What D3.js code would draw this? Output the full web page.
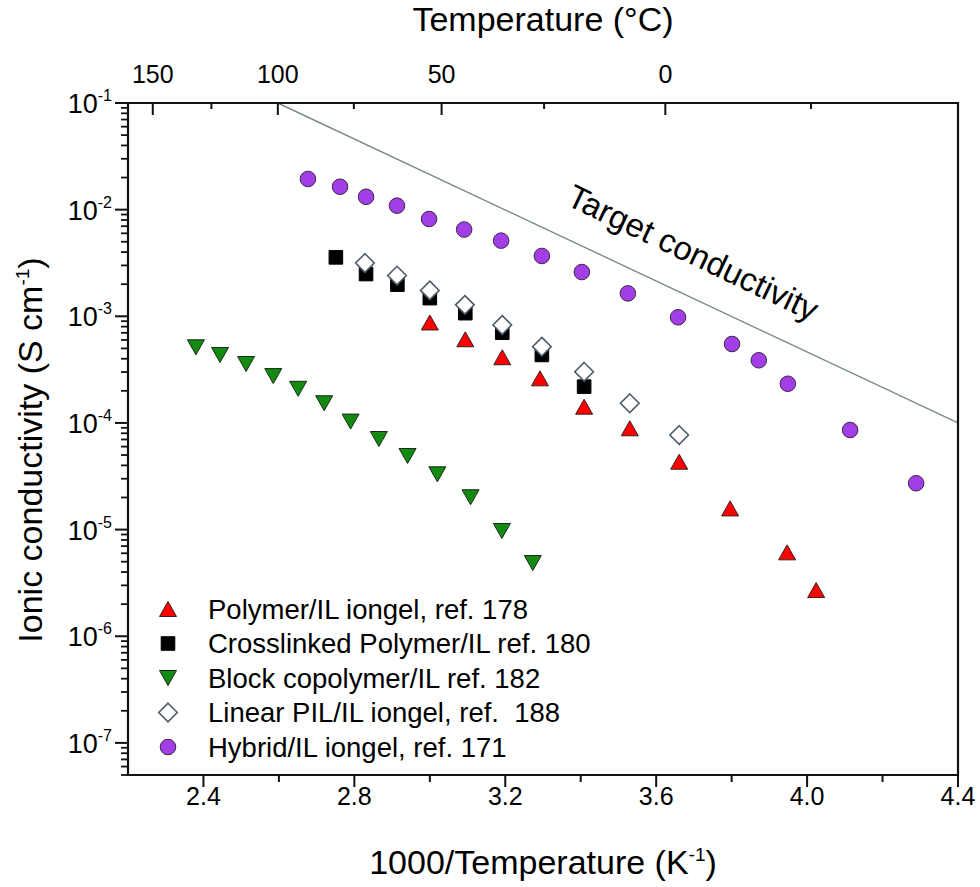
<!DOCTYPE html>
<html>
<head>
<meta charset="utf-8">
<script src="https://cdn.jsdelivr.net/npm/d3@7"></script>
<style>
  body { margin: 0; background: #fff; }
  svg { display: block; font-family: "Liberation Sans", Arial, sans-serif; }
</style>
</head>
<body>
<svg id="chart" width="980" height="887"></svg>
<script>
// Series values: 1000/T (K^-1) and conductivity (S cm^-1)
const polymerX = [3.000, 3.094, 3.192, 3.292, 3.409, 3.530, 3.661, 3.796, 3.947, 4.024];
const polymerY = [8.75e-4, 6.09e-4, 4.13e-4, 2.62e-4, 1.42e-4, 8.91e-5, 4.33e-5, 1.58e-5, 6.12e-6, 2.71e-6];

const crosslinkedX = [2.751, 2.831, 2.914, 3.000, 3.094, 3.192, 3.297, 3.409];
const crosslinkedY = [3.57e-3, 2.49e-3, 1.98e-3, 1.48e-3, 1.07e-3, 7.02e-4, 4.34e-4, 2.19e-4];

const blockX = [2.380, 2.444, 2.513, 2.585, 2.651, 2.720, 2.790, 2.865, 2.941, 3.020, 3.108, 3.191, 3.273];
const blockY = [5.12e-4, 4.34e-4, 3.57e-4, 2.75e-4, 2.09e-4, 1.53e-4, 1.03e-4, 7.07e-5, 4.90e-5, 3.30e-5, 2.01e-5, 9.7e-6, 4.86e-6];

const linearX = [2.828, 2.913, 3.000, 3.093, 3.192, 3.297, 3.409, 3.530, 3.661];
const linearY = [3.16e-3, 2.41e-3, 1.75e-3, 1.28e-3, 8.29e-4, 5.19e-4, 3.02e-4, 1.53e-4, 7.71e-5];

const hybridX = [2.677, 2.762, 2.831, 2.913, 2.998, 3.091, 3.189, 3.297, 3.403, 3.525, 3.658, 3.801, 3.872, 3.949, 4.114, 4.289];
const hybridY = [1.94e-2, 1.64e-2, 1.32e-2, 1.09e-2, 8.17e-3, 6.51e-3, 5.12e-3, 3.68e-3, 2.60e-3, 1.64e-3, 9.79e-4, 5.50e-4, 3.87e-4, 2.33e-4, 8.59e-5, 2.72e-5];

// target conductivity line end points
const targetX = [2.597, 4.4];
const targetY = [1e-1, 1e-4];

// axis ticks
const xMajor = [2.4, 2.8, 3.2, 3.6, 4.0, 4.4];
const xMinor = [2.6, 3.0, 3.4, 3.8, 4.2];
const yDecades = [-7, -6, -5, -4, -3, -2, -1];
const tempMajor = [150, 100, 50, 0];
const tempMinor = [125, 75, 25, -25];

const legendLabels = [
    "Polymer/IL iongel, ref. 178",
    "Crosslinked Polymer/IL ref. 180",
    "Block copolymer/IL ref. 182",
    "Linear PIL/IL iongel, ref.  188",
    "Hybrid/IL iongel, ref. 171"
];

const svg = d3.select("#chart");

const x = d3.scaleLinear().domain([2.2, 4.4]).range([128, 958]);
const y = d3.scaleLog().domain([5e-8, 1e-1]).range([775, 103]);
// top axis in degC, its own 1000/T mapping
const xTop = d3.scaleLinear().domain([2.3005, 4.402]).range([128, 958]);
const toInv = t => 1000 / (t + 273.15);

// markers, drawn around centre (0,0)
const shapes = {
    up: "M0,-7.5L8.5,7.5L-8.5,7.5Z",
    down: "M0,7.5L8.5,-7.5L-8.5,-7.5Z",
    square: "M-6.8,-6.8H6.8V6.8H-6.8Z",
    diamond: "M0,-9.3L9.3,0L0,9.3L-9.3,0Z"
};

const series = [
    { xs: polymerX, ys: polymerY, shape: "up", fill: "#ff0000", stroke: "#3a2020" },
    { xs: crosslinkedX, ys: crosslinkedY, shape: "square", fill: "#000000", stroke: "#000000" },
    { xs: blockX, ys: blockY, shape: "down", fill: "#138a10", stroke: "#1a2a1a" },
    { xs: linearX, ys: linearY, shape: "diamond", fill: "#ffffff", stroke: "#4d5b6a" },
    { xs: hybridX, ys: hybridY, shape: "circle", fill: "#a33ee6", stroke: "#3a2a4a" }
];

function drawMarker(g, s) {
    if (s.shape === "circle") {
        g.append("circle").attr("r", 7.8)
            .attr("fill", s.fill).attr("stroke", s.stroke).attr("stroke-width", 1);
    } else {
        g.append("path").attr("d", shapes[s.shape])
            .attr("fill", s.fill).attr("stroke", s.stroke)
            .attr("stroke-width", s.shape === "diamond" ? 1.6 : 1);
    }
}

// target line
svg.append("line")
    .attr("x1", x(targetX[0])).attr("y1", y(targetY[0]))
    .attr("x2", x(targetX[1])).attr("y2", y(targetY[1]))
    .attr("stroke", "#7d8a8a").attr("stroke-width", 1.4);

svg.append("text")
    .attr("transform", "translate(688,263) rotate(25.5)")
    .attr("text-anchor", "middle")
    .style("font-size", "33px")
    .text("Target conductivity");

// data points, crosslinked drawn before linear so diamonds sit on top
const order = [2, 0, 1, 3, 4];
order.forEach(i => {
    const s = series[i];
    s.xs.forEach((v, j) => {
        const g = svg.append("g").attr("transform", `translate(${x(v)},${y(s.ys[j])})`);
        drawMarker(g, s);
    });
});

// frame
const axisColor = "#111";
const frame = svg.append("g").attr("stroke", axisColor).attr("stroke-width", 2.2).attr("fill", "none");
frame.append("path").attr("d", `M${x(2.2)},${y(1e-1)}H${x(4.4)}V${y(5e-8)}H${x(2.2)}Z`);

// bottom axis
const bottomAxis = svg.append("g").attr("stroke", axisColor).attr("stroke-width", 2);
xMajor.forEach(v => bottomAxis.append("line").attr("x1", x(v)).attr("x2", x(v)).attr("y1", 775).attr("y2", 787));
xMinor.forEach(v => bottomAxis.append("line").attr("x1", x(v)).attr("x2", x(v)).attr("y1", 775).attr("y2", 782));
svg.append("g").selectAll("text").data(xMajor).join("text")
    .attr("x", d => x(d)).attr("y", 805)
    .attr("text-anchor", "middle")
    .style("font-size", "25px")
    .text(d => d3.format(".1f")(d));

// left axis, log ticks
const leftAxis = svg.append("g").attr("stroke", axisColor).attr("stroke-width", 2);
yDecades.forEach(p => {
    leftAxis.append("line").attr("x1", 128).attr("x2", 115).attr("y1", y(Math.pow(10, p))).attr("y2", y(Math.pow(10, p)));
});
[-8, -7, -6, -5, -4, -3, -2].forEach(p => {
    for (let k = 2; k <= 9; k++) {
        const v = k * Math.pow(10, p);
        if (v < 5e-8 || v > 1e-1) continue;
        leftAxis.append("line").attr("x1", 128).attr("x2", 121).attr("y1", y(v)).attr("y2", y(v)).attr("stroke-width", 1.8);
    }
});
const yLab = svg.append("g").selectAll("text").data(yDecades).join("text")
    .attr("x", 112).attr("y", d => y(Math.pow(10, d)) + 10)
    .attr("text-anchor", "end")
    .style("font-size", "27px");
yLab.append("tspan").text("10");
yLab.append("tspan").attr("dy", -12).style("font-size", "16px").text(d => d);

// top axis in degC, ticks inward
const topAxis = svg.append("g").attr("stroke", axisColor).attr("stroke-width", 2);
tempMajor.forEach(t => topAxis.append("line").attr("x1", xTop(toInv(t))).attr("x2", xTop(toInv(t))).attr("y1", 103).attr("y2", 115));
tempMinor.forEach(t => topAxis.append("line").attr("x1", xTop(toInv(t))).attr("x2", xTop(toInv(t))).attr("y1", 103).attr("y2", 109));
svg.append("g").selectAll("text").data(tempMajor).join("text")
    .attr("x", t => xTop(toInv(t))).attr("y", 83)
    .attr("text-anchor", "middle")
    .style("font-size", "25px")
    .text(t => t);

// titles
svg.append("text")
    .attr("x", 543).attr("y", 31)
    .attr("text-anchor", "middle")
    .style("font-size", "34px")
    .text("Temperature (\u00B0C)");

const xt = svg.append("text")
    .attr("x", 543).attr("y", 874)
    .attr("text-anchor", "middle")
    .style("font-size", "34px");
xt.append("tspan").text("1000/Temperature (K");
xt.append("tspan").attr("dy", -13).style("font-size", "19px").text("-1");
xt.append("tspan").attr("dy", 13).text(")");

const yt = svg.append("text")
    .attr("transform", "translate(42,450) rotate(-90)")
    .attr("text-anchor", "middle")
    .style("font-size", "34px");
yt.append("tspan").text("Ionic conductivity (S cm");
yt.append("tspan").attr("dy", -13).style("font-size", "19px").text("-1");
yt.append("tspan").attr("dy", 13).text(")");

// legend
const legend = svg.append("g").selectAll("g").data(series).join("g")
    .attr("transform", (d, i) => `translate(168,${609 + i * 34.5})`);
legend.each(function (d) { drawMarker(d3.select(this), d); });
legend.append("text")
    .attr("x", 40).attr("y", 9.5)
    .style("font-size", "27.5px")
    .style("white-space", "pre")
    .text((d, i) => legendLabels[i]);
</script>
</body>
</html>
